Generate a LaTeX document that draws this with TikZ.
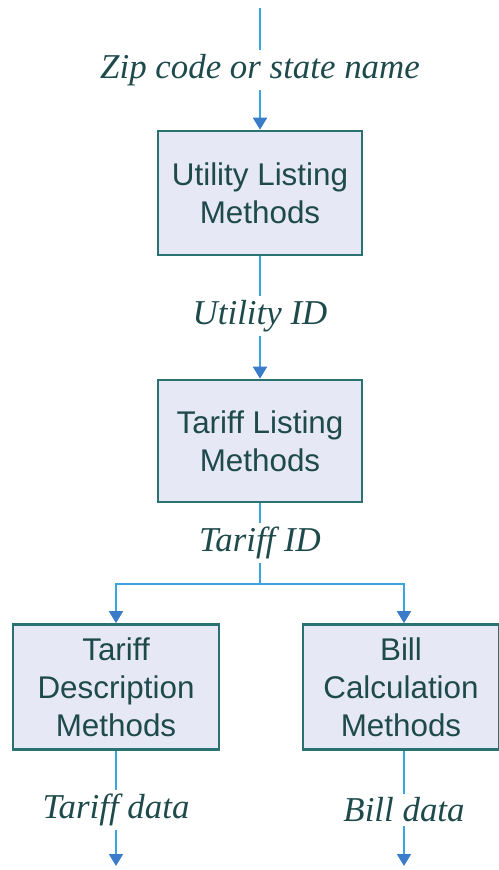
\documentclass[tikz,border=0pt]{standalone}
\usepackage{fontspec}
\setmainfont{Liberation Serif}
\setsansfont{Liberation Sans}
\usetikzlibrary{arrows.meta}
\definecolor{boxfill}{HTML}{E6E9F5}
\definecolor{boxline}{HTML}{2A7272}
\definecolor{flow}{HTML}{3BA4DC}
\definecolor{tip}{HTML}{3A7CC8}
\definecolor{txt}{HTML}{1F4A4C}
\tikzset{
  x=1bp, y=-1bp,
  method/.style={draw=boxline, line width=2.6bp, fill=boxfill, align=center,
    font=\sffamily\fontsize{31.5}{38}\selectfont, text=txt, inner sep=0pt},
  lab/.style={font=\itshape\fontsize{35}{40}\selectfont, text=txt, fill=white, inner sep=4bp},
  flowline/.style={draw=flow, line width=1.8bp},
  arr/.style={flowline, -{Triangle[width=14bp,length=12bp,fill=tip,color=tip]}},
}
\begin{document}
\begin{tikzpicture}
\useasboundingbox (0,0) rectangle (499,870);
\coordinate (top) at (260,8);
\node[lab] (l1) at (260,70) {Zip code or state name};
\node[method, minimum width=204bp, minimum height=124bp] (b1) at (260,193) {Utility Listing\\Methods};
\node[lab] (l2) at (260,316) {Utility ID};
\node[method, minimum width=204bp, minimum height=122bp] (b2) at (260,441) {Tariff Listing\\Methods};
\node[lab] (l3) at (260,543) {Tariff ID};
\coordinate (br) at (260,584);
\node[method, minimum width=206bp, minimum height=125bp] (b3) at (116,687) {Tariff\\Description\\Methods};
\node[method, minimum width=196bp, minimum height=125bp] (b4) at (401,687) {Bill\\Calculation\\Methods};
\node[lab] (l4) at (116,810) {Tariff data};
\node[lab] (l5) at (404,810) {Bill data};
\coordinate (e4) at (116,866);
\coordinate (e5) at (404,866);

\draw[flowline] (top) -- (l1);
\draw[arr] (l1) -- (b1);
\draw[flowline] (b1) -- (l2);
\draw[arr] (l2) -- (b2);
\draw[flowline] (b2) -- (l3);
\draw[flowline] (l3) -- (br);
\draw[arr] (br) -| (b3.north);
\draw[arr] (br) -| (b4.north -| l5);
\draw[flowline] (b3) -- (l4);
\draw[arr] (l4) -- (e4);
\draw[flowline] (b4.south -| l5) -- (l5);
\draw[arr] (l5) -- (e5);
\end{tikzpicture}
\end{document}
